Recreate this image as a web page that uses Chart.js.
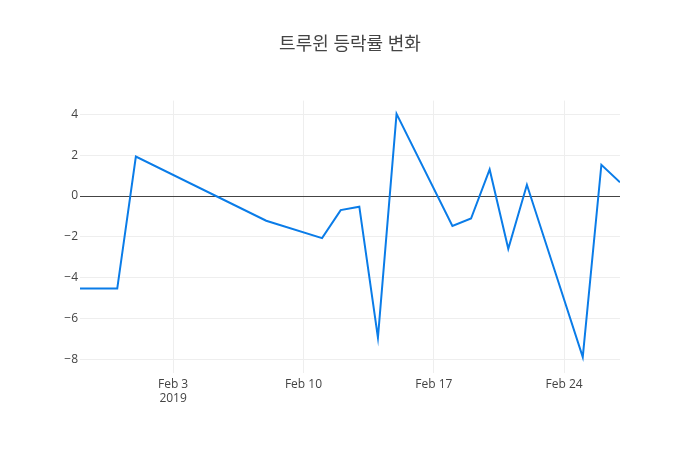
<!DOCTYPE html>
<html>
<head>
<meta charset="utf-8">
<script src="https://cdn.jsdelivr.net/npm/chart.js@4/dist/chart.umd.min.js"></script>
<style>
  html, body { margin: 0; padding: 0; background: #fff; }
  #wrap { width: 700px; height: 450px; }
</style>
</head>
<body>
<div id="wrap"><canvas id="rateChart" width="700" height="450"></canvas></div>
<script>
// Trading dates (2019) and daily change rate (%)
const dates = [
  "2019-01-29", "2019-01-31", "2019-02-01", "2019-02-08", "2019-02-11",
  "2019-02-12", "2019-02-13", "2019-02-14", "2019-02-15", "2019-02-18",
  "2019-02-19", "2019-02-20", "2019-02-21", "2019-02-22", "2019-02-25",
  "2019-02-26", "2019-02-27",
];
const rates = [
  -4.53, -4.53, 1.93, -1.21, -2.06,
  -0.69, -0.52, -6.93, 4.02, -1.46,
  -1.10, 1.30, -2.58, 0.55, -7.88,
  1.53, 0.67,
];
const xTickDates = ["2019-02-03", "2019-02-10", "2019-02-17", "2019-02-24"];
const yTickValues = [-8, -6, -4, -2, 0, 2, 4];

const DAY = 86400000;
const toDay = (s) => Date.UTC(+s.slice(0, 4), +s.slice(5, 7) - 1, +s.slice(8, 10)) / DAY;
const monthNames = ["Jan", "Feb", "Mar", "Apr", "May", "Jun", "Jul", "Aug", "Sep", "Oct", "Nov", "Dec"];

const points = dates.map((d, i) => ({ x: toDay(d), y: rates[i] }));
const xTicks = xTickDates.map(toDay);

const ctx = document.getElementById("rateChart").getContext("2d");
const rateChart = new Chart(ctx, {
  type: "line",
  data: {
    datasets: [
      {
        label: "등락률",
        data: points,
        borderColor: "#0a7ce8",
        borderWidth: 2,
        pointRadius: 0,
        tension: 0,
        fill: false,
      },
    ],
  },
  options: {
    responsive: false,
    animation: false,
    devicePixelRatio: 1,
    layout: { padding: 0 },
    plugins: {
      legend: { display: false },
      tooltip: { enabled: false },
      title: {
        display: true,
        text: "트루윈 등락률 변화",
        color: "#444",
        font: { family: "'Open Sans', 'Noto Sans CJK KR', sans-serif", size: 18, weight: "normal" },
        padding: { top: 34, bottom: 45 },
      },
    },
    scales: {
      x: {
        type: "linear",
        min: toDay(dates[0]),
        max: toDay(dates[dates.length - 1]),
        afterBuildTicks(scale) {
          scale.ticks = xTicks.map((v) => ({ value: v }));
        },
        afterFit(scale) {
          scale.height = 77;
        },
        border: { display: false },
        grid: { color: "#eee", lineWidth: 1, drawTicks: false },
        ticks: {
          color: "#444",
          padding: 4,
          maxRotation: 0,
          font: { family: "'Open Sans', sans-serif", size: 12 },
          callback(value, index) {
            const d = new Date(value * DAY);
            const label = monthNames[d.getUTCMonth()] + " " + d.getUTCDate();
            return index === 0 ? [label, String(d.getUTCFullYear())] : label;
          },
        },
      },
      y: {
        min: -8.66,
        max: 4.67,
        afterBuildTicks(scale) {
          scale.ticks = yTickValues.map((v) => ({ value: v }));
        },
        afterFit(scale) {
          scale.width = 80;
        },
        border: { display: false },
        grid: {
          drawTicks: false,
          color: (c) => (c.tick && c.tick.value === 0 ? "#444" : "#eee"),
          lineWidth: 1,
        },
        ticks: {
          color: "#444",
          padding: 2,
          font: { family: "'Open Sans', sans-serif", size: 12 },
          callback: (v) => (v < 0 ? "−" + Math.abs(v) : String(v)),
        },
      },
      // empty right-hand axis, only reserves the right margin so the title stays centred
      yRight: {
        position: "right",
        display: true,
        border: { display: false },
        grid: { display: false, drawTicks: false },
        ticks: { display: false },
        afterFit(scale) {
          scale.width = 80;
        },
      },
    },
  },
});
</script>
</body>
</html>
